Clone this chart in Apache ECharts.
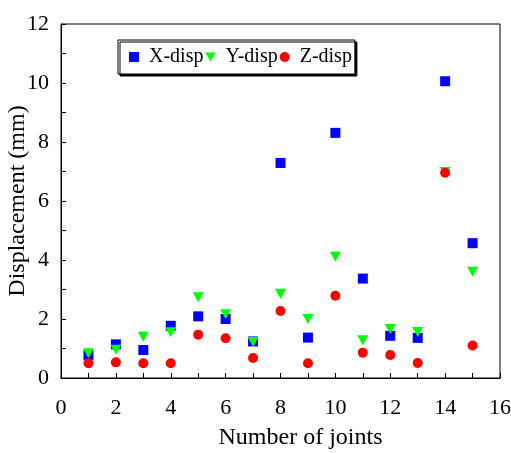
<!DOCTYPE html>
<html>
<head>
<meta charset="utf-8">
<script src="https://cdn.jsdelivr.net/npm/echarts@6/dist/echarts.min.js"></script>
<style>
  html, body { margin: 0; padding: 0; background: #fff; }
  #chart { width: 511px; height: 453px; }
</style>
</head>
<body>
<div id="chart"></div>
<script>
// Joint numbers along the x axis
const joints = [1, 2, 3, 4, 5, 6, 7, 8, 9, 10, 11, 12, 13, 14, 15];
// Displacement (mm) per joint in each direction
const xDisp = [0.77, 1.14, 0.95, 1.77, 2.09, 2.00, 1.24, 7.29, 1.37, 8.31, 3.37, 1.43, 1.36, 10.06, 4.57];
const yDisp = [0.84, 0.96, 1.40, 1.55, 2.74, 2.16, 1.22, 2.86, 2.00, 4.11, 1.28, 1.66, 1.56, 6.98, 3.60];
const zDisp = [0.50, 0.53, 0.50, 0.50, 1.47, 1.35, 0.68, 2.27, 0.50, 2.79, 0.86, 0.78, 0.51, 6.96, 1.10];
const seriesNames = ['X-disp', 'Y-disp', 'Z-disp'];

const pairs = vals => joints.map((j, i) => [j, vals[i]]);
const font = 'Liberation Serif, Times New Roman, serif';
const downTriangle = 'path://M0,0 L10,0 L5,9 Z';

const chart = echarts.init(document.getElementById('chart'));
chart.setOption({
  animation: false,
  backgroundColor: '#fff',
  grid: {
    left: 61, top: 24, right: 11, bottom: 75,
    containLabel: false, outerBoundsMode: 'none',
    show: true, borderColor: '#000', borderWidth: 1
  },
  legend: {
    left: 118, top: 40,
    padding: [7, 3, 7, 11],
    itemGap: 2,
    itemWidth: 10, itemHeight: 10,
    backgroundColor: '#fff',
    borderColor: '#000', borderWidth: 1,
    shadowColor: '#000', shadowBlur: 0, shadowOffsetX: 2, shadowOffsetY: 2,
    textStyle: { fontFamily: font, fontSize: 20, color: '#000', padding: [0, 0, 0, 5] },
    data: [
      { name: seriesNames[0], icon: 'rect' },
      { name: seriesNames[1], icon: downTriangle },
      { name: seriesNames[2], icon: 'circle' }
    ]
  },
  xAxis: {
    type: 'value', min: 0, max: 16, interval: 2,
    name: 'Number of joints', nameLocation: 'middle', nameGap: 48, nameMoveOverlap: false,
    nameTextStyle: { fontFamily: font, fontSize: 24, color: '#000', padding: [0, 0, 0, 40] },
    axisLine: { lineStyle: { color: '#000', width: 1 } },
    axisTick: { inside: true, length: 5, lineStyle: { color: '#000' } },
    minorTick: { show: true, splitNumber: 2, length: 5, lineStyle: { color: '#000' } },
    axisLabel: { fontFamily: font, fontSize: 22, color: '#000', margin: 19 },
    splitLine: { show: false }
  },
  yAxis: {
    type: 'value', min: 0, max: 12, interval: 2,
    name: 'Displacement (mm)', nameLocation: 'middle', nameGap: 31, nameMoveOverlap: false,
    nameTextStyle: { fontFamily: font, fontSize: 24, color: '#000' },
    axisLine: { show: true, lineStyle: { color: '#000', width: 1 } },
    axisTick: { inside: true, length: 5, lineStyle: { color: '#000' } },
    minorTick: { show: true, splitNumber: 2, length: 5, lineStyle: { color: '#000' } },
    axisLabel: { fontFamily: font, fontSize: 22, color: '#000', margin: 12 },
    splitLine: { show: false }
  },
  series: [
    {
      name: seriesNames[0], type: 'scatter', data: pairs(xDisp),
      symbol: 'rect', symbolSize: 10, itemStyle: { color: '#0000ff', opacity: 1 }
    },
    {
      name: seriesNames[1], type: 'scatter', data: pairs(yDisp),
      symbol: 'triangle', symbolRotate: 180, symbolSize: [11, 10], itemStyle: { color: '#00ff00', opacity: 1 }
    },
    {
      name: seriesNames[2], type: 'scatter', data: pairs(zDisp),
      symbol: 'circle', symbolSize: 10, itemStyle: { color: '#ff0000', opacity: 1 }
    }
  ]
});
</script>
</body>
</html>
